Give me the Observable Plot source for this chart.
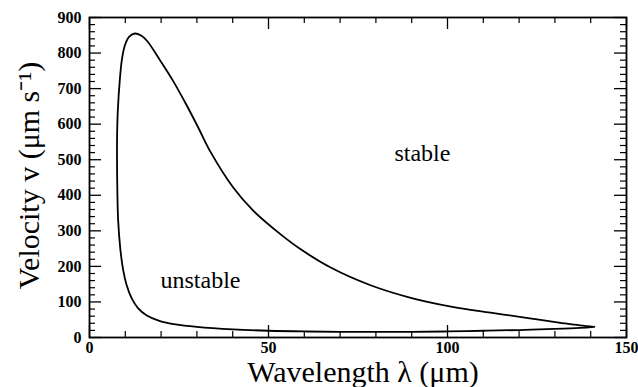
<!DOCTYPE html>
<html>
<head>
<meta charset="utf-8">
<script src="https://cdn.jsdelivr.net/npm/d3@7"></script>
<script src="https://cdn.jsdelivr.net/npm/@observablehq/plot@0.6"></script>
<style>
  body { margin: 0; background: #fff; }
  #chart svg { display: block; }
  #chart svg text { font-family: "Liberation Serif", "Times New Roman", serif; }
</style>
</head>
<body>
<div id="chart"></div>
<script>
// Neutral stability boundary: closed loop traced from the right tip,
// back along the upper branch, over the peak, down the left side and
// out along the lower branch to the tip again.
const wavelength = [141, 137, 132.5, 123, 112, 101, 90, 78.5, 67.5, 59, 53.4, 45.8, 40.2, 33.8, 30.4, 27.1, 23.5, 19.8, 16.1, 14.3, 12.7, 11.1, 9.9, 9.1, 8.5, 7.9, 7.7, 7.7, 7.8, 8.0, 8.6, 9.4, 10.3, 11.8, 13.6, 16, 19.5, 24, 30, 40, 50, 60, 70, 80, 90, 100, 110, 120, 130, 137, 141];
const velocity   = [30, 34, 40, 54, 70, 87, 111, 147, 196, 248, 290, 356, 421, 522, 590, 654, 719, 778, 834, 850, 855, 846, 822, 785, 729, 636, 560, 480, 400, 330, 250, 190, 150, 110, 82, 62, 47, 37, 30, 23, 19, 17, 16, 16, 16, 17, 19, 21, 24, 27, 30];

const xTicks = [0, 50, 100, 150];
const xMinor = [10, 20, 30, 40, 60, 70, 80, 90, 110, 120, 130, 140];
const yTicks = [0, 100, 200, 300, 400, 500, 600, 700, 800, 900];
const yMinor = [20, 40, 60, 80, 120, 140, 160, 180, 220, 240, 260, 280, 320, 340, 360, 380,
                420, 440, 460, 480, 520, 540, 560, 580, 620, 640, 660, 680, 720, 740, 760, 780,
                820, 840, 860, 880];

const regionNames = ["unstable", "stable"];
const regionLambda = [31, 93];
const regionVelocity = [160, 519];

const xTitle = "Wavelength \u03bb (\u03bcm)";
const yTitle = "Velocity v (\u03bcm s\u207b\u00b9)";

const loop = wavelength.map((x, i) => ({x, y: velocity[i]}));
const regions = regionNames.map((name, i) => ({name, x: regionLambda[i], y: regionVelocity[i]}));

const W = 638, H = 387;
const mL = 89, mR = 12, mT = 17, mB = 50;
const fw = W - mL - mR, fh = H - mT - mB;
const major = 12, minor = 6;
const serif = "Liberation Serif";

const chart = Plot.plot({
  width: W,
  height: H,
  marginLeft: mL,
  marginRight: mR,
  marginTop: mT,
  marginBottom: mB,
  style: {fontFamily: serif, color: "#000", background: "#fff"},
  x: {domain: [0, 150], axis: null},
  y: {domain: [0, 900], axis: null},
  marks: [
    // inward ticks on all four sides
    Plot.tickX(xTicks, {x: d => d, insetTop: fh - major, strokeWidth: 1.3}),
    Plot.tickX(xTicks, {x: d => d, insetBottom: fh - major, strokeWidth: 1.3}),
    Plot.tickX(xMinor, {x: d => d, insetTop: fh - minor, strokeWidth: 1.2}),
    Plot.tickX(xMinor, {x: d => d, insetBottom: fh - minor, strokeWidth: 1.2}),
    Plot.tickY(yTicks, {y: d => d, insetRight: fw - major, strokeWidth: 1.3}),
    Plot.tickY(yTicks, {y: d => d, insetLeft: fw - major, strokeWidth: 1.3}),
    Plot.tickY(yMinor, {y: d => d, insetRight: fw - minor, strokeWidth: 1.2}),
    Plot.tickY(yMinor, {y: d => d, insetLeft: fw - minor, strokeWidth: 1.2}),
    Plot.frame({stroke: "#000", strokeWidth: 1.8}),
    // tick labels
    Plot.text(xTicks, {x: d => d, text: d => String(d), frameAnchor: "bottom", lineAnchor: "top",
                       dy: 4, fontSize: 16, fontWeight: "bold", fontFamily: serif, fill: "#000"}),
    Plot.text(yTicks, {y: d => d, text: d => String(d), frameAnchor: "left", textAnchor: "end",
                       dx: -8, fontSize: 16, fontWeight: "bold", fontFamily: serif, fill: "#000"}),
    Plot.line(loop, {x: "x", y: "y", curve: "catmull-rom", stroke: "#000", strokeWidth: 1.8}),
    Plot.text(regions, {x: "x", y: "y", text: "name", fontSize: 24, fontFamily: serif, fill: "#000"}),
    Plot.text([xTitle], {frameAnchor: "bottom", textAnchor: "middle", lineAnchor: "middle",
                         dx: 5, dy: 35, fontSize: 30, fontFamily: serif, fill: "#000"}),
    Plot.text([yTitle], {frameAnchor: "left", textAnchor: "middle", lineAnchor: "middle",
                         rotate: -90, dx: -60, dy: -2, fontSize: 30, fontFamily: serif, fill: "#000"})
  ]
});

document.getElementById("chart").append(chart);
</script>
</body>
</html>
